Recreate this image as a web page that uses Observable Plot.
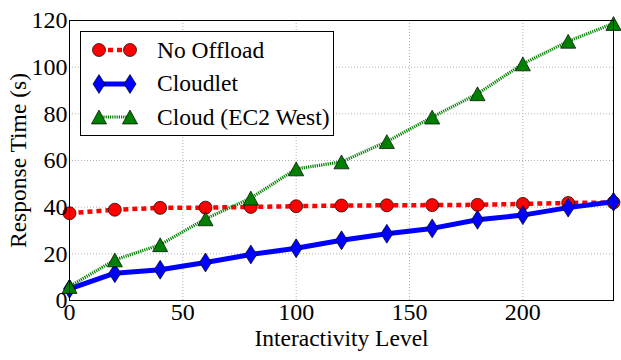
<!DOCTYPE html>
<html><head>
<meta charset="utf-8">
<script src="https://cdn.jsdelivr.net/npm/d3@7"></script>
<script src="https://cdn.jsdelivr.net/npm/@observablehq/plot@0.6"></script>
<style>
body{margin:0;background:#fff;}
#wrap{position:relative;width:621px;height:360px;font-family:"Liberation Serif",serif;}
#wrap > svg text{font-size:24px;fill:#000;}
#wrap > svg g[aria-label="text"] text{font-size:23.5px;}
#legend{position:absolute;left:80px;top:31px;width:254px;height:105px;border:1px solid #000;background:#fff;box-sizing:border-box;}
.row{position:absolute;left:0;height:30px;display:flex;align-items:center;}
.row svg{margin-left:6px;}
.row span{position:absolute;left:76px;font-size:23.5px;white-space:nowrap;color:#000;}
</style>
</head><body>
<div id="wrap"><div id="legend"></div></div>
<script>
const levels     = [0, 20, 40, 60, 80, 100, 120, 140, 160, 180, 200, 220, 240];
const noOffload  = [37.4, 38.9, 39.7, 39.8, 40.1, 40.4, 40.7, 40.8, 40.9, 41.0, 41.4, 41.8, 42.0];
const cloudlet   = [5.0, 11.7, 13.2, 16.3, 19.7, 22.4, 25.8, 28.6, 30.9, 34.6, 36.6, 39.8, 42.3];
const cloud      = [6.0, 17.4, 23.9, 35.0, 43.9, 56.4, 59.4, 68.1, 78.6, 88.6, 101.4, 111.1, 118.7];
const seriesNames = ["No Offload", "Cloudlet", "Cloud (EC2 West)"];
const xTicks = [0, 50, 100, 150, 200];
const yTicks = [0, 20, 40, 60, 80, 100, 120];
const xTitle = "Interactivity Level";
const yTitle = "Response Time (s)";

const thinDiamond = {draw(ctx, size){ const r = Math.sqrt(size/Math.PI); const h = r*1.5, w = r*0.95; ctx.moveTo(0,-h); ctx.lineTo(w,0); ctx.lineTo(0,h); ctx.lineTo(-w,0); ctx.closePath(); }};
const triUp = {draw(ctx, size){ const r = Math.sqrt(size/Math.PI); const h = r*1.1, w = r*1.2; ctx.moveTo(0,-h); ctx.lineTo(w,h); ctx.lineTo(-w,h); ctx.closePath(); }};

const styles = [
  {stroke:"#ff0000", width:4.5, dash:"5,4", symbol:"circle", r:6.5},
  {stroke:"#0000ff", width:5, dash:null, symbol:thinDiamond, r:6.3},
  {stroke:"#008000", width:3.2, dash:"1.2,1", symbol:triUp, r:6.3}
];
const values = [noOffload, cloudlet, cloud];
const data = seriesNames.map((name, i) => levels.map((x, j) => ({series:name, x, y:values[i][j]})));

const marks = [
  Plot.gridX(xTicks, {stroke:"#b0b0b0", strokeOpacity:1, strokeDasharray:"1,2"}),
  Plot.gridY(yTicks, {stroke:"#b0b0b0", strokeOpacity:1, strokeDasharray:"1,2"})
];
data.forEach((d, i) => {
  const s = styles[i];
  marks.push(Plot.line(d, {x:"x", y:"y", stroke:s.stroke, strokeWidth:s.width, strokeDasharray:s.dash ?? undefined, strokeLinecap:"butt"}));
  marks.push(Plot.dot(d, {x:"x", y:"y", symbol:()=>s.symbol, r:s.r, fill:s.stroke, stroke:"#000", strokeWidth:0.7}));
});
marks.push(Plot.frame({stroke:"#000", strokeWidth:1}));
marks.push(Plot.axisX(xTicks, {tickSize:0, tickPadding:2, label:null}));
marks.push(Plot.axisY(yTicks, {tickSize:0, tickPadding:2, label:null}));
marks.push(Plot.text([xTitle], {frameAnchor:"bottom", dy:38, textAnchor:"middle", lineAnchor:"middle", text:d=>d}));
marks.push(Plot.text([yTitle], {frameAnchor:"left", dx:-51, rotate:-90, textAnchor:"middle", lineAnchor:"middle", text:d=>d}));

const chart = Plot.plot({
  width:621, height:360,
  marginLeft:69, marginRight:8, marginTop:20, marginBottom:60,
  style:{fontFamily:"'Liberation Serif', serif", fontSize:"24px", color:"#000", background:"#fff", overflow:"visible"},
  x:{domain:[0,240]},
  y:{domain:[0,120]},
  symbol:{type:"identity"},
  marks
});
document.getElementById("wrap").prepend(chart);

// legend
const leg = document.getElementById("legend");
seriesNames.forEach((name, i) => {
  const s = styles[i];
  const row = document.createElement("div");
  row.className = "row";
  row.style.top = (3 + i*33.5) + "px";
  const svg = d3.create("svg").attr("width", 60).attr("height", 30);
  svg.append("line").attr("x1", 12).attr("x2", 43).attr("y1", 15).attr("y2", 15)
    .attr("stroke", s.stroke).attr("stroke-width", s.width).attr("stroke-dasharray", s.dash);
  const sym = typeof s.symbol === "string" ? d3.symbolCircle : s.symbol;
  [12, 43].forEach(cx => svg.append("path").attr("transform", `translate(${cx},15)`)
    .attr("d", d3.symbol(sym, s.r*s.r*Math.PI)()).attr("fill", s.stroke).attr("stroke", "#000").attr("stroke-width", 0.7));
  row.append(svg.node());
  const sp = document.createElement("span");
  sp.textContent = name;
  row.append(sp);
  leg.append(row);
});
</script>
</body></html>
